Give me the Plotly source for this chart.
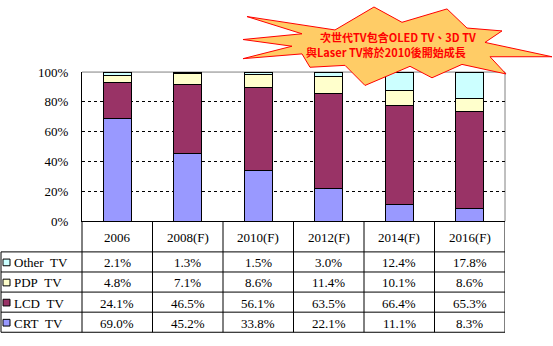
import plotly.graph_objects as go

W, H = 553, 346

categories = ["2006", "2008(F)", "2010(F)", "2012(F)", "2014(F)", "2016(F)"]
series_names = ["CRT TV", "LCD TV", "PDP TV", "Other TV"]
crt = [69.0, 45.2, 33.8, 22.1, 11.1, 8.3]
lcd = [24.1, 46.5, 56.1, 63.5, 66.4, 65.3]
pdp = [4.8, 7.1, 8.6, 11.4, 10.1, 8.6]
other = [2.1, 1.3, 1.5, 3.0, 12.4, 17.8]
colors = ["#9999FF", "#993366", "#FFFFCC", "#CCFFFF"]
y_ticks = [0, 20, 40, 60, 80, 100]
callout_lines = ["次世代TV包含OLED TV、3D TV", "與Laser TV將於2010後開始成長"]

values = [crt, lcd, pdp, other]


def px(x):
    return x / W


def py(y):
    return 1 - y / H


PLOT_L, PLOT_R, PLOT_T, PLOT_B = 82, 505, 68, 224
TAB_L = 1
HDR_LINE = 256
ROW_H = 21
SERIF = "Liberation Serif"

fig = go.Figure()
for name, vals, col in zip(series_names, values, colors):
    fig.add_trace(go.Bar(
        x=categories, y=vals, name=name,
        marker=dict(color=col, line=dict(color="black", width=1)),
        showlegend=False,
    ))

shapes = []
annotations = []

# grey top / right border of plot area
shapes.append(dict(type="path", xref="x domain", yref="y domain",
                   path="M 0 1 L 1 1 L 1 0", line=dict(color="#808080", width=1), layer="below"))

row_order = [3, 2, 1, 0]
n_rows = len(row_order)
for i in range(n_rows + 1):
    yy = HDR_LINE + i * ROW_H
    shapes.append(dict(type="line", xref="paper", yref="paper",
                       x0=px(TAB_L), x1=px(PLOT_R), y0=py(yy), y1=py(yy),
                       line=dict(color="black", width=1)))
bottom = HDR_LINE + n_rows * ROW_H
shapes.append(dict(type="line", xref="paper", yref="paper",
                   x0=px(TAB_L), x1=px(TAB_L), y0=py(HDR_LINE), y1=py(bottom),
                   line=dict(color="black", width=1)))
shapes.append(dict(type="line", xref="paper", yref="paper",
                   x0=px(PLOT_L), x1=px(PLOT_L), y0=py(PLOT_B), y1=py(bottom),
                   line=dict(color="black", width=1)))
for k in range(1, len(categories) + 1):
    shapes.append(dict(type="line", xref="x", yref="paper",
                       x0=k - 0.5, x1=k - 0.5, y0=py(PLOT_B), y1=py(bottom),
                       line=dict(color="black", width=1)))

for i, c in enumerate(categories):
    annotations.append(dict(x=i, xref="x", y=py((PLOT_B + HDR_LINE) / 2 + 1), yref="paper",
                            text=c, showarrow=False, font=dict(family=SERIF, size=13, color="black"),
                            xanchor="center", yanchor="middle"))

for r, si in enumerate(row_order):
    yc = HDR_LINE + r * ROW_H + ROW_H / 2
    shapes.append(dict(type="rect", xref="paper", yref="paper",
                       x0=px(3), x1=px(10), y0=py(yc - 3), y1=py(yc + 4),
                       fillcolor=colors[si], line=dict(color="black", width=1)))
    annotations.append(dict(x=px(12), xref="paper", y=py(yc + 1), yref="paper",
                            text=series_names[si].replace(" ", "\u00a0\u00a0"), showarrow=False,
                            font=dict(family=SERIF, size=13, color="black"),
                            xanchor="left", yanchor="middle"))
    for i, v in enumerate(values[si]):
        annotations.append(dict(x=i, xref="x", y=py(yc + 1), yref="paper",
                                text=f"{v:.1f}%", showarrow=False,
                                font=dict(family=SERIF, size=13, color="black"),
                                xanchor="center", yanchor="middle"))

star = [(247, 10), (335, 24), (374, 0), (402, 16), (447, 2), (467, 22), (502, 25),
        (485, 37), (552, 52), (490, 52), (506, 70), (462, 60), (432, 74), (410, 62),
        (365, 82), (345, 61), (310, 63), (302, 49), (243, 54), (292, 41), (243, 34), (302, 28)]
path = "M " + " L ".join(f"{px(x):.5f} {py(y):.5f}" for x, y in star) + " Z"
shapes.append(dict(type="path", xref="paper", yref="paper", path=path,
                   fillcolor="#FFCC66", line=dict(color="#FF0000", width=1), layer="above"))
for (cx, cy), line in zip([(398, 31), (386, 47)], callout_lines):
    annotations.append(dict(x=px(cx), xref="paper", y=py(cy), yref="paper", text=line,
                            showarrow=False,
                            font=dict(family="Noto Sans CJK TC", size=11, color="#FF0000", weight="bold"),
                            xanchor="center", yanchor="middle", align="center"))

fig.update_layout(
    width=W, height=H,
    margin=dict(l=0, r=0, t=0, b=0),
    paper_bgcolor="white", plot_bgcolor="white",
    barmode="stack", barnorm="percent", bargap=0.6,
    shapes=shapes, annotations=annotations,
    xaxis=dict(domain=[px(PLOT_L), px(PLOT_R)], type="category",
               categoryorder="array", categoryarray=categories,
               range=[-0.5, len(categories) - 0.5], autorange=False,
               showline=True, linecolor="black", linewidth=1,
               showticklabels=False, ticks="", showgrid=False, zeroline=False),
    yaxis=dict(domain=[py(PLOT_B), py(PLOT_T)], range=[0, 100], autorange=False,
               tickvals=y_ticks, ticktext=[f"{t}%" for t in y_ticks],
               tickfont=dict(family=SERIF, size=13, color="black"),
               showline=True, linecolor="black", linewidth=1,
               showgrid=True, gridcolor="black", gridwidth=1, griddash="3px,3px",
               zeroline=False, ticks="", ticklabelstandoff=10),
    font=dict(family=SERIF, color="black"),
)

fig.write_html("out.html")
